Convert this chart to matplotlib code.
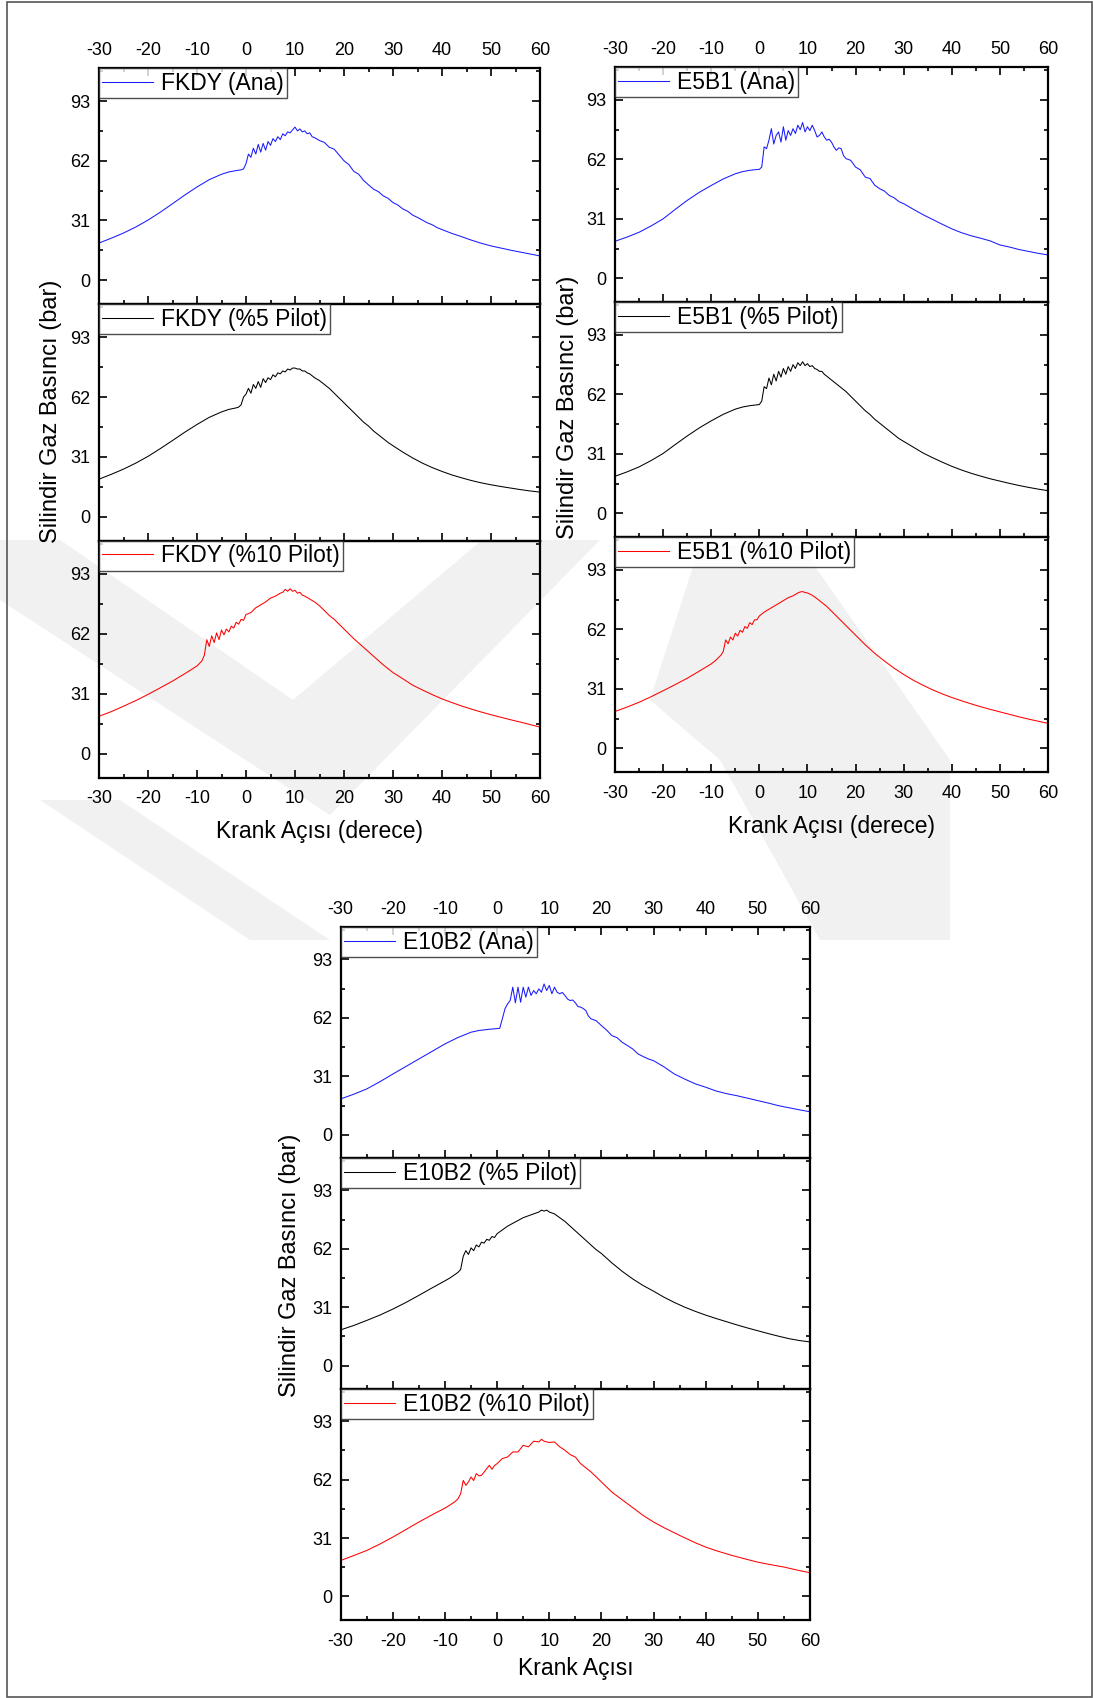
import matplotlib
matplotlib.use("Agg")
import matplotlib.pyplot as plt
from matplotlib.patches import Polygon, Rectangle
from matplotlib.ticker import MultipleLocator

plt.rcParams['font.family'] = ['Liberation Sans', 'DejaVu Sans']
plt.rcParams['axes.unicode_minus'] = False

W, H = 1093, 1698

# ---------------- data ----------------
# FKDY (Ana)
x_fkdy_ana = [-30, -27.5, -25, -22.5, -20, -17.5, -15, -12.5, -10, -7.5, -5, -3.5, -2, -1, -0.5,
              0, 0.5, 1, 1.5, 2, 2.5, 3, 3.5, 4, 4.5, 5, 5.5, 6, 6.5, 7, 7.5, 8, 8.5, 9, 9.5,
              10, 10.5, 11, 11.5, 12, 12.5, 13, 13.5, 14,
              15, 16, 17, 18, 19, 20, 21, 22, 23, 24, 25, 26, 27, 28, 29, 30, 31, 32, 33, 34, 35,
              36, 37, 38, 39, 40, 42, 44, 46, 48, 50, 52, 54, 56, 58, 60]
y_fkdy_ana = [19.3, 21.8, 24.5, 27.6, 31.2, 35.3, 39.7, 44.2, 48.4, 52.2, 55.0, 56.2, 56.9, 57.3, 57.8,
              60.5, 65.5, 63.8, 68.5, 65.5, 70.5, 66.5, 71.0, 67.5, 72.0, 70.0, 73.5, 72.0, 74.5, 73.0, 76.0, 75.0, 77.0, 76.5, 78.0,
              79.5, 77.5, 78.5, 77.0, 77.5, 76.0, 76.5, 74.5, 74.0,
              72.5, 71.5, 69.0, 68.0, 65.0, 62.0, 60.0, 56.5, 55.0, 51.8, 49.5, 47.3, 46.0, 43.8, 42.5, 40.3, 39.0, 37.0, 35.8, 33.8, 32.6,
              31.2, 29.8, 28.8, 27.3, 26.3, 24.3, 22.6, 20.8, 19.2, 17.8, 16.7, 15.6, 14.6, 13.6, 12.6]

# FKDY (%5 Pilot)
x_fkdy_p5 = [-30, -27.5, -25, -22.5, -20, -17.5, -15, -12.5, -10, -7.5, -5, -3.5, -2, -1.5,
             -1, -0.5, 0, 0.5, 1, 1.5, 2, 2.5, 3, 3.5, 4, 4.5, 5, 5.5, 6, 6.5, 7, 7.5, 8, 8.5, 9, 9.5,
             10, 10.5, 11, 11.5, 12, 12.5, 13, 13.5, 14,
             15, 16, 17, 18, 19, 20, 21, 22, 23, 24, 25, 26, 27, 28, 29, 30, 32, 34, 36, 38, 40,
             42, 44, 46, 48, 50, 52, 54, 56, 58, 60]
y_fkdy_p5 = [19.5, 22.0, 24.7, 27.8, 31.3, 35.3, 39.5, 43.8, 47.8, 51.5, 54.3, 55.6, 56.4, 56.8,
             58.0, 62.0, 63.5, 66.5, 64.0, 68.5, 66.5, 70.0, 67.0, 71.5, 69.5, 72.0, 71.0, 73.5, 72.5, 74.5, 74.0, 75.5, 75.0, 76.5, 76.0, 77.0,
             77.0, 76.5, 76.5, 75.5, 75.5, 74.5, 74.0, 73.0, 72.0,
             70.5, 68.5, 66.5, 64.0, 61.5, 59.0, 56.5, 54.0, 51.5, 49.0, 47.0, 44.5, 42.5, 40.5, 38.5, 36.8, 33.5, 30.5, 27.8, 25.5, 23.5,
             21.7, 20.2, 18.8, 17.6, 16.6, 15.7, 14.9, 14.1, 13.4, 12.8]

# FKDY (%10 Pilot)
x_fkdy_p10 = [-30, -27.5, -25, -22.5, -20, -17.5, -15, -12.5, -10, -9, -8.5,
              -8, -7.5, -7, -6.5, -6, -5.5, -5, -4.5, -4, -3.5, -3, -2.5, -2, -1.5, -1, -0.5, 0,
              1, 2, 3, 4, 5, 6, 7, 7.5, 8, 8.5, 9, 9.5, 10, 10.5, 11, 11.5, 12, 13, 14, 15,
              16, 17, 18, 19, 20, 22, 24, 26, 28, 30, 32, 34, 36, 38, 40, 42, 44, 46, 48, 50,
              52, 54, 56, 58, 60]
y_fkdy_p10 = [19.4, 21.8, 24.6, 27.5, 30.7, 34.1, 37.6, 41.4, 45.4, 48.0, 51.0,
              59.0, 55.5, 61.0, 57.5, 62.5, 59.0, 64.0, 61.5, 64.5, 63.0, 66.0, 65.0, 68.0, 67.0, 69.5, 69.0, 72.0,
              73.0, 75.5, 77.0, 78.5, 80.5, 81.5, 83.0, 83.5, 85.0, 84.0, 85.3, 84.0, 84.5, 83.0, 83.5, 82.0, 81.5, 80.0, 78.5, 76.5,
              74.0, 71.5, 69.5, 67.0, 64.5, 59.5, 55.0, 50.5, 46.0, 42.0, 38.8, 35.5, 33.0, 30.6, 28.4, 26.5, 24.7, 23.1, 21.6, 20.2,
              18.9, 17.6, 16.4, 15.1, 13.8]

# E5B1 (Ana)
x_e5_ana = [-30, -27.5, -25, -22.5, -20, -17.5, -15, -12.5, -10, -7.5, -5, -3.5, -2, -1, 0, 0.5,
            1, 1.5, 2, 2.5, 3, 3.5, 4, 4.5, 5, 5.5, 6, 6.5, 7, 7.5, 8, 8.5, 9, 9.5, 10, 10.5, 11,
            11.5, 12, 12.5, 13, 13.5, 14, 14.5, 15, 15.5, 16, 16.5, 17, 17.5, 18, 19, 20, 21, 22,
            23, 24, 25, 26, 27, 28, 29, 30, 32, 34, 36, 38, 40, 42, 44, 46, 48, 50, 52, 54, 56, 58, 60]
y_e5_ana = [19.3, 21.5, 24.0, 27.3, 31.0, 35.9, 40.6, 44.8, 48.4, 51.8, 54.5, 55.6, 56.3, 56.6, 56.8, 58.0,
            68.5, 67.6, 72.0, 78.0, 70.0, 74.5, 76.3, 71.0, 79.0, 72.0, 77.0, 74.5, 78.0, 75.5, 79.8, 77.5, 81.2, 76.3, 79.0, 77.0, 79.8,
            77.0, 73.7, 74.5, 76.3, 73.7, 72.0, 72.5, 71.0, 68.5, 66.7, 68.0, 67.6, 64.0, 62.4, 61.5, 58.0, 56.5, 52.8,
            52.0, 48.5, 46.7, 45.5, 43.2, 42.0, 40.0, 38.9, 36.0, 33.2, 30.7, 28.2, 25.8, 23.8, 22.2, 20.9, 19.5, 17.4, 16.3, 15.0, 14.0, 13.0, 12.2]

# E5B1 (%5 Pilot)
x_e5_p5 = [-30, -27.5, -25, -22.5, -20, -17.5, -15, -12.5, -10, -7.5, -5, -3.5, -2, -1, 0, 0.5,
           1, 1.5, 2, 2.5, 3, 3.5, 4, 4.5, 5, 5.5, 6, 6.5, 7, 7.5, 8, 8.5, 9, 9.5, 10, 10.5, 11,
           11.5, 12, 12.5, 13, 13.5, 14, 15, 16, 17, 18, 19, 20, 21, 22,
           23, 24, 25, 26, 27, 28, 29, 30, 32, 34, 36, 38, 40, 42, 44, 46, 48, 50, 52, 54, 56, 58, 60]
y_e5_p5 = [19.3, 21.6, 24.2, 27.5, 31.2, 35.8, 40.3, 44.5, 48.2, 51.6, 54.3, 55.4, 56.1, 56.4, 56.7, 58.5,
           66.0, 65.0, 70.5, 67.0, 72.5, 69.0, 74.0, 71.0, 75.5, 72.5, 76.5, 74.0, 77.5, 75.5, 78.5, 77.0, 79.0, 77.0, 78.0, 76.5, 77.0,
           75.5, 75.0, 74.0, 74.0, 72.5, 71.5, 69.5, 67.5, 65.5, 63.5, 61.0, 58.5, 56.0, 53.5,
           51.5, 49.0, 47.0, 45.0, 43.0, 41.0, 39.0, 37.5, 34.5, 31.5, 29.0, 26.7, 24.5, 22.6, 20.9, 19.4, 18.0, 16.8, 15.6, 14.5, 13.5, 12.6, 11.8]

# E5B1 (%10 Pilot)
x_e5_p10 = [-30, -27.5, -25, -22.5, -20, -17.5, -15, -12.5, -10, -9, -8, -7.5,
            -7, -6.5, -6, -5.5, -5, -4.5, -4, -3.5, -3, -2.5, -2, -1.5, -1, -0.5, 0,
            1, 2, 3, 4, 5, 6, 7, 8, 8.5, 9, 9.5, 10, 11, 12, 13, 14, 15, 16, 17, 18, 19, 20,
            22, 24, 26, 28, 30, 32, 34, 36, 38, 40, 42, 44, 46, 48, 50, 52, 54, 56, 58, 60]
y_e5_p10 = [19.2, 21.5, 24.0, 26.9, 30.0, 33.2, 36.5, 40.2, 44.0, 46.0, 48.5, 50.5,
            56.5, 54.5, 58.0, 56.5, 60.0, 58.5, 61.5, 60.5, 63.5, 62.5, 65.5, 64.5, 67.0, 67.0, 69.0,
            71.0, 72.5, 74.0, 75.5, 77.0, 78.5, 79.5, 81.0, 81.5, 81.7, 81.2, 81.0, 79.8, 78.0, 76.0, 74.0, 71.5, 69.0, 66.5, 64.0, 61.5, 59.0,
            54.0, 49.5, 45.5, 41.8, 38.5, 35.5, 32.9, 30.5, 28.4, 26.5, 24.8, 23.2, 21.7, 20.3, 19.0, 17.7, 16.4, 15.2, 14.1, 13.0]

# E10B2 (Ana)
x_e10_ana = [-30, -27.5, -25, -22.5, -20, -17.5, -15, -12.5, -10, -7.5, -5, -3.5, -2, -1, 0, 0.5,
             1, 1.5, 2, 2.5, 3, 3.5, 4, 4.5, 5, 5.5, 6, 6.5, 7, 7.5, 8, 8.5, 9, 9.5, 10, 10.5, 11,
             11.5, 12, 12.5, 13, 13.5, 14, 14.5, 15, 15.5, 16, 16.5, 17, 17.5, 18, 19, 20, 21, 22,
             23, 24, 25, 26, 27, 28, 29, 30, 32, 34, 36, 38, 40, 42, 44, 46, 48, 50, 52, 54, 56, 58, 60]
y_e10_ana = [19.0, 21.5, 24.3, 28.1, 32.2, 36.2, 40.2, 44.2, 48.2, 51.6, 54.4, 55.3, 55.8, 56.1, 56.3, 56.5,
             61.5, 66.8, 69.4, 71.2, 78.3, 70.0, 78.3, 70.3, 78.3, 73.0, 78.3, 73.9, 76.5, 74.8, 77.4, 75.6, 80.0, 76.5, 79.2, 74.8, 78.3,
             75.6, 74.8, 75.5, 73.9, 72.0, 71.2, 71.5, 70.0, 68.0, 67.7, 67.0, 65.9, 63.0, 61.5, 60.5, 57.9, 55.5, 52.6,
             51.5, 49.0, 47.3, 45.5, 42.9, 41.5, 40.2, 39.3, 36.0, 32.2, 29.5, 27.0, 25.2, 23.2, 21.8, 20.7, 19.4, 18.1, 16.8, 15.4, 14.3, 13.2, 12.2]

# E10B2 (%5 Pilot)
x_e10_p5 = [-30, -27.5, -25, -22.5, -20, -17.5, -15, -12.5, -10, -9, -8, -7.5,
            -7, -6.5, -6, -5.5, -5, -4.5, -4, -3.5, -3, -2.5, -2, -1.5, -1, -0.5, 0,
            1, 2, 3, 4, 5, 6, 7, 8, 8.5, 9, 9.5, 10, 11, 12, 13, 14, 15, 16, 17, 18, 19, 20,
            22, 24, 26, 28, 30, 32, 34, 36, 38, 40, 42, 44, 46, 48, 50, 52, 54, 56, 58, 60]
y_e10_p5 = [19.0, 21.3, 24.0, 26.8, 30.0, 33.5, 37.3, 41.2, 45.0, 46.6, 48.5, 49.5,
            51.0, 58.0, 61.0, 59.0, 62.5, 61.0, 64.0, 63.0, 65.5, 65.0, 67.0, 66.5, 68.5, 68.0, 70.0,
            72.0, 74.0, 75.5, 77.0, 78.5, 79.5, 80.5, 81.5, 82.5, 82.0, 82.5, 81.5, 80.5, 78.5, 76.5, 74.0, 71.5, 69.0, 66.5, 64.0, 61.5, 59.5,
            54.5, 50.0, 46.0, 42.5, 39.5, 36.3, 33.5, 31.0, 28.8, 26.8, 25.0, 23.3, 21.6, 20.0, 18.5, 17.0, 15.6, 14.3, 13.3, 12.6]

# E10B2 (%10 Pilot)
x_e10_p10 = [-30, -27.5, -25, -22.5, -20, -17.5, -15, -12.5, -10, -9, -8, -7.5,
             -7, -6.5, -6, -5.5, -5, -4.5, -4, -3.5, -3, -2.5, -2, -1.5, -1, -0.5, 0,
             1, 2, 3, 4, 5, 6, 7, 8, 8.5, 9, 10, 11, 12, 13, 14, 15, 16, 18, 20,
             22, 25, 28, 30, 32, 35, 38, 40, 42, 45, 48, 50, 52, 55, 58, 60]
y_e10_p10 = [19.1, 21.7, 24.4, 27.8, 31.5, 35.5, 39.5, 43.3, 46.9, 48.6, 50.5, 51.9,
             54.5, 61.6, 59.0, 60.8, 63.4, 61.5, 65.2, 64.0, 64.3, 66.0, 67.8, 69.6, 67.5, 69.5, 70.5,
             73.2, 74.0, 76.7, 76.7, 80.2, 79.4, 82.4, 82.0, 83.4, 82.4, 81.7, 82.0, 79.4, 77.6, 75.3, 74.0, 70.5, 66.1, 60.8,
             55.4, 49.2, 43.0, 39.5, 36.5, 32.4, 28.5, 26.2, 24.3, 21.8, 19.6, 18.2, 17.1, 15.6, 13.7, 12.6]

groups = [
    ([(x_fkdy_ana, y_fkdy_ana), (x_fkdy_p5, y_fkdy_p5), (x_fkdy_p10, y_fkdy_p10)],
     ['FKDY (Ana)', 'FKDY (%5 Pilot)', 'FKDY (%10 Pilot)'], 'Krank Açısı (derece)'),
    ([(x_e5_ana, y_e5_ana), (x_e5_p5, y_e5_p5), (x_e5_p10, y_e5_p10)],
     ['E5B1 (Ana)', 'E5B1 (%5 Pilot)', 'E5B1 (%10 Pilot)'], 'Krank Açısı (derece)'),
    ([(x_e10_ana, y_e10_ana), (x_e10_p5, y_e10_p5), (x_e10_p10, y_e10_p10)],
     ['E10B2 (Ana)', 'E10B2 (%5 Pilot)', 'E10B2 (%10 Pilot)'], 'Krank Açısı'),
]
colors = ['#1a1aff', '#000000', '#ff0000']
x_ticks = [-30, -20, -10, 0, 10, 20, 30, 40, 50, 60]
y_ticks = [0, 31, 62, 93]
ylabel = 'Silindir Gaz Basıncı (bar)'

# ---------------- layout (pixels) ----------------
group_px = [
    (99, 540, [68.3, 304.3, 541.0, 778.0], 51, 411, 832),
    (615, 1048, [67.3, 302.3, 537.3, 772.3], 568, 407, 826),
    (340.7, 810, [927.4, 1158.3, 1389.2, 1620.0], 290, 1265, 1669),
]

fig = plt.figure(figsize=(W / 100, H / 100), dpi=100)
fig.patch.set_facecolor('white')

# light watermark bands (background decoration)
wm_color = '#f1f1f1'
def P(pts):
    return [(x / W, 1 - y / H) for x, y in pts]
wm_shapes = [
    [(0, 540), (60, 540), (293, 700), (482, 540), (600, 540), (330, 815), (0, 600)],
    [(700, 545), (800, 545), (950, 760), (950, 940), (820, 940), (720, 760), (650, 700)],
    [(40, 800), (120, 800), (330, 940), (250, 940)],
]
for poly in wm_shapes:
    fig.patches.append(Polygon(P(poly), closed=True, transform=fig.transFigure,
                               facecolor=wm_color, edgecolor='none', zorder=-10))

# outer border
fig.patches.append(Rectangle((7 / W, 1 - 1697 / H), (1092 - 7) / W, (1697 - 2) / H,
                             transform=fig.transFigure, fill=False, edgecolor='#555555',
                             linewidth=1.2, zorder=5))

for (series, labels, xlab), (x0, x1, ys, ylx, yly, xly) in zip(groups, group_px):
    for i in range(3):
        top, bot = ys[i], ys[i + 1]
        ax = fig.add_axes([x0 / W, 1 - bot / H, (x1 - x0) / W, (bot - top) / H])
        ax.patch.set_alpha(0)
        xs, yv = series[i]
        ax.plot(xs, yv, color=colors[i], lw=0.75, label=labels[i])
        ax.set_xlim(-30, 60)
        ax.set_ylim(-12.5, 110)
        ax.set_xticks(x_ticks)
        ax.set_yticks(y_ticks)
        ax.xaxis.set_minor_locator(MultipleLocator(5))
        ax.yaxis.set_minor_locator(MultipleLocator(15.5))
        for s in ax.spines.values():
            s.set_linewidth(1.6)
        ax.tick_params(which='both', direction='in', left=True, right=True,
                       bottom=True, top=(i == 0), labelbottom=(i == 2), labeltop=(i == 0),
                       labelsize=13, width=1.2)
        ax.tick_params(which='major', length=6)
        ax.tick_params(which='minor', length=3)
        ax.tick_params(axis='x', which='both', pad=7 if i == 0 else 9)
        ax.tick_params(axis='y', pad=6)
        leg = ax.legend(loc='upper left', bbox_to_anchor=(0, 1), borderaxespad=0,
                        fancybox=False, edgecolor='#222222', facecolor='white',
                        fontsize=16.5, handlelength=2.2, handletextpad=0.35,
                        borderpad=0.15)
        leg.get_frame().set_linewidth(1.0)
    fig.text(ylx / W, 1 - yly / H, ylabel, rotation=90, ha='center', va='center', fontsize=17)
    fig.text((x0 + x1) / 2 / W, 1 - xly / H, xlab, ha='center', va='center', fontsize=16.5)

fig.savefig('out.png', dpi=100)
